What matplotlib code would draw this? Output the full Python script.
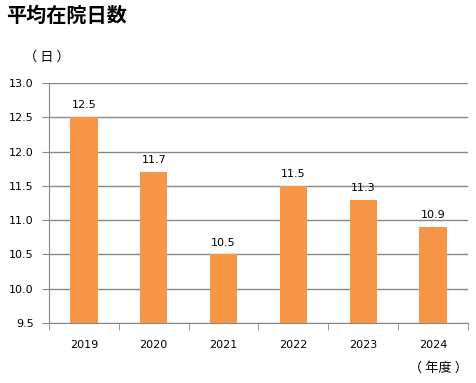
import numpy as np
import matplotlib.pyplot as plt

plt.rcParams['font.family'] = ['Noto Sans CJK JP', 'DejaVu Sans']

years = ['2019', '2020', '2021', '2022', '2023', '2024']
days = [12.5, 11.7, 10.5, 11.5, 11.3, 10.9]

fig = plt.figure(figsize=(4.77, 3.83), dpi=100)
ax = fig.add_axes([0.1027, 0.1567, 0.8783, 0.6266])

x = np.arange(len(years))
ax.bar(x, days, width=0.39, color='#F79646', zorder=3)
for xi, v in zip(x, days):
    ax.text(xi, v + 0.1, f'{v:.1f}', ha='center', va='bottom', fontsize=8, family='DejaVu Sans')

ax.set_ylim(9.5, 13.0)
ax.set_xlim(-0.5, len(years) - 0.5)
ax.set_yticks(np.arange(9.5, 13.01, 0.5))
ax.set_yticklabels([f'{t:.1f}' for t in np.arange(9.5, 13.01, 0.5)], fontsize=8, family='DejaVu Sans')
ax.set_xticks(x)
ax.set_xticklabels(years, fontsize=8, family='DejaVu Sans')
ax.set_xticks(np.arange(-0.5, len(years)), minor=True)
ax.tick_params(axis='x', which='major', length=0, pad=12)
ax.tick_params(axis='x', which='minor', length=5, color='#888888')
ax.tick_params(axis='y', length=5, color='#888888', pad=6)
ax.grid(axis='y', color='#888888', linewidth=1, zorder=0)
for s in ['top', 'right']:
    ax.spines[s].set_visible(False)
for s in ['left', 'bottom']:
    ax.spines[s].set_color('#888888')

fig.text(0.013, 0.96, '平均在院日数', fontsize=14.5, fontweight='bold', va='center', ha='left')
fig.text(0.05, 0.85, '（ 日 ）', fontsize=9.5, va='center', ha='left')
fig.text(0.982, 0.038, '（ 年度 ）', fontsize=9.5, va='center', ha='right')

fig.savefig('out.png', dpi=100)
